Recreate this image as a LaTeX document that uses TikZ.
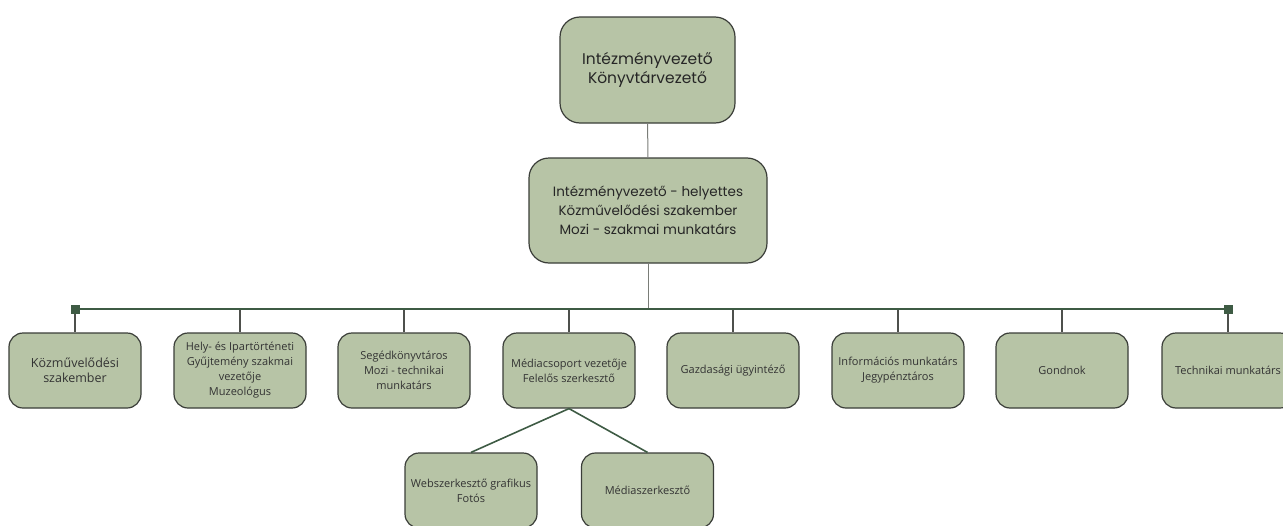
\documentclass[tikz,border=0pt]{standalone}
\usepackage{fontspec}
\setmainfont{Open Sans}
\newfontfamily\headfont{Poppins}
\usetikzlibrary{positioning}

\definecolor{boxfill}{HTML}{B7C4A6}
\definecolor{boxborder}{HTML}{3A3D38}
\definecolor{busgreen}{HTML}{3E5B44}
\definecolor{stemgray}{HTML}{7A7D78}

\newcommand{\grandtxt}{\fontsize{12.5}{16}\selectfont}

\tikzset{
  fonction/.style={draw=boxborder, fill=boxfill, line width=1.2pt, rounded corners=14pt,
    minimum width=132pt, minimum height=75pt, inner sep=2pt, align=center,
    text=black!80, font=\fontsize{11}{15}\selectfont},
  chef/.style={fonction, rounded corners=20pt, text=black!85},
  bus/.style={draw=busgreen, line width=1.6pt},
  drop/.style={draw=boxborder!90, line width=1.4pt},
  stem/.style={draw=stemgray, line width=1pt},
  endmark/.style={fill=busgreen, minimum size=9pt, inner sep=0pt},
}

\begin{document}
\begin{tikzpicture}[x=1pt,y=-1pt]
\useasboundingbox (0,0) rectangle (1283,525);

% les deux postes de direction
\node[chef, minimum width=175pt, minimum height=106pt, font=\headfont\fontsize{15.5}{18.5}\selectfont]
  (dir) at (647.5,70) {Intézményvezető\\Könyvtárvezető};
\node[chef, minimum width=238pt, minimum height=105pt, font=\headfont\fontsize{13.5}{19}\selectfont]
  (adj) at (648,210.5) {Intézményvezető - helyettes\\Közművelődési szakember\\Mozi - szakmai munkatárs};
\draw[stem] (dir) -- (adj);

% la rangée des postes
\foreach \i/\x/\txt in {1/75/{\grandtxt Közművelődési\\\grandtxt szakember},
    2/240/{Hely- és Ipartörténeti\\Gyűjtemény szakmai\\vezetője\\Muzeológus},
    3/404/{Segédkönyvtáros\\Mozi - technikai\\munkatárs},
    4/569/{Médiacsoport vezetője\\Felelős szerkesztő},
    5/733/{Gazdasági ügyintéző},
    6/898/{Információs munkatárs\\Jegypénztáros},
    7/1062/{Gondnok},
    8/1228/{Technikai munkatárs}}{
  \node[fonction] (p\i) at (\x,370.5) {\txt};
  \coordinate (b\i) at (\x,309);
  \draw[drop] (b\i) -- (p\i);
}
\draw[stem] (adj) -- (adj |- b1);
\draw[bus] (b1) -- (b8);
\node[endmark] (m1) at (b1) {};
\node[endmark] (m8) at (b8) {};

% sous le groupe média
\node[fonction] (web) at (471,490.5) {Webszerkesztő grafikus\\Fotós};
\node[fonction] (media) at (647.5,490.5) {Médiaszerkesztő};
\draw[bus] (p4.south) -- (web.north);
\draw[bus] (p4.south) -- (media.north);
\end{tikzpicture}
\end{document}
